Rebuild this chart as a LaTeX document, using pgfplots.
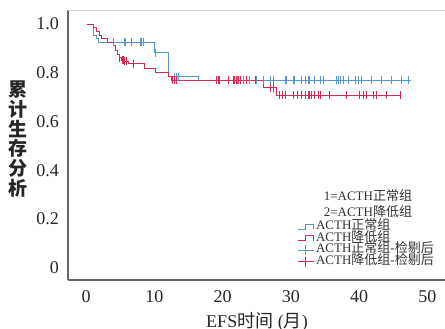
\documentclass[border=0pt]{standalone}
\usepackage{fontspec}
\setmainfont{Liberation Serif}
\newfontfamily\cjk{Noto Sans CJK SC}
\usepackage{pgfplots}
\pgfplotsset{compat=1.18}
\definecolor{kmblue}{RGB}{82,150,215}
\definecolor{kmred}{RGB}{212,42,82}
\begin{document}
\begin{tikzpicture}
\begin{axis}[
  at={(0,0)}, anchor=south west,
  scale only axis, width=378pt, height=270pt,
  xmin=-2.64, xmax=52.73, ymin=-0.0505, ymax=1.0575,
  axis lines*=left,
  axis line style={draw=gray!80!black, line width=1.1pt},
  xtick={0,10,20,30,40,50},
  ytick={0,0.2,0.4,0.6,0.8,1.0},
  yticklabels={0,0.2,0.4,0.6,0.8,1.0},
  tick style={draw=none},
  /pgf/number format/assume math mode=true,
  ticklabel style={font=\fontsize{18pt}{20pt}\selectfont, text=black!85},
  yticklabel style={anchor=east, inner sep=0pt, xshift=-9pt},
  xticklabel style={anchor=north, inner sep=0pt, yshift=-10pt},
  ylabel={累\\计\\生\\存\\分\\析},
  ylabel style={rotate=-90, align=center, anchor=center,
    font=\cjk\bfseries\fontsize{19pt}{19.7pt}\selectfont, text=black!85,
    at={(axis description cs:-0.132,0.522)}},
  xlabel={EFS{\cjk 时间} ({\cjk 月})},
  xlabel style={anchor=base, font=\fontsize{18pt}{20pt}\selectfont, text=black!85,
    at={(axis description cs:0.5,0)}, yshift=-48pt},
  legend style={at={(axis cs:30.9,0.193)}, anchor=north west, draw=none, fill=none,
    inner sep=0pt, row sep=0pt, column sep=2pt,
    nodes={inner sep=0pt, text height=8.7pt, text depth=3pt,
      font=\fontsize{13pt}{13pt}\selectfont, text=black!80}},
  legend cell align=left,
  after end axis/.code={\draw[gray!35, line width=0.8pt] (rel axis cs:0,1) -- (rel axis cs:1,1);},
]
\addplot[kmblue, line width=0.9pt, const plot,
  legend image code/.code={\draw[kmblue, line width=0.9pt] (0pt,-2.5pt) -- (8pt,-2.5pt) -- (8pt,2.5pt) -- (16pt,2.5pt) -- (16pt,-2.5pt);}]
  coordinates {(0.2,1.0)(1.07,0.951)(1.46,0.94)(1.8,0.925)(9.96,0.882)(12.05,0.784)(16.45,0.769)(47.6,0.769)};
\addlegendentry{ACTH{\cjk 正常组}}
\addplot[kmred, line width=0.9pt, const plot,
  legend image code/.code={\draw[kmred, line width=0.9pt] (0pt,-2.5pt) -- (8pt,-2.5pt) -- (8pt,2.5pt) -- (16pt,2.5pt) -- (16pt,-2.5pt);}]
  coordinates {(0.2,1.0)(1.1,0.985)(1.6,0.97)(2.0,0.955)(2.3,0.94)(3.2,0.926)(4.0,0.91)(4.3,0.892)(4.6,0.876)(4.9,0.862)(5.2,0.852)(5.6,0.847)(6.2,0.837)(8.6,0.817)(10.1,0.80)(12.06,0.784)(12.5,0.769)(26.0,0.739)(27.9,0.708)(46.2,0.708)};
\addlegendentry{ACTH{\cjk 降低组}}
\addplot[kmblue, only marks, mark=|, mark size=4pt, mark options={line width=0.9pt},
  legend image code/.code={\draw[kmblue, line width=0.9pt] (0pt,0pt) -- (16pt,0pt) (8pt,-5pt) -- (8pt,5pt);}]
  coordinates {(4.0,0.925)(5.57,0.925)(5.8,0.925)(6.7,0.925)(7.9,0.925)(8.15,0.925)(8.4,0.925)
  (10.1,0.882)(12.9,0.784)(13.2,0.784)(13.5,0.784)
  (19.4,0.769)(19.6,0.769)(21.6,0.769)(22.2,0.769)(23.0,0.769)(24.0,0.769)(24.9,0.769)(26.0,0.769)(27.0,0.769)(27.4,0.769)
  (29.2,0.769)(29.4,0.769)(30.4,0.769)(30.6,0.769)(31.6,0.769)(32.1,0.769)(32.6,0.769)(32.8,0.769)(33.5,0.769)(34.3,0.769)(34.8,0.769)
  (36.7,0.769)(37.0,0.769)(37.2,0.769)(37.7,0.769)(38.4,0.769)(39.4,0.769)(39.9,0.769)(40.4,0.769)(41.8,0.769)(43.3,0.769)(44.8,0.769)(46.2,0.769)(47.2,0.769)};
\addlegendentry{ACTH{\cjk 正常组}-{\cjk 检剔后}}
\addplot[kmred, only marks, mark=|, mark size=4pt, mark options={line width=0.9pt},
  legend image code/.code={\draw[kmred, line width=0.9pt] (0pt,0pt) -- (16pt,0pt) (8pt,-5pt) -- (8pt,5pt);}]
  coordinates {(4.95,0.862)(5.3,0.852)(5.5,0.852)(5.7,0.847)(5.9,0.847)(6.9,0.837)
  (12.7,0.769)(13.0,0.769)(13.3,0.769)
  (19.1,0.769)(19.4,0.769)(19.6,0.769)(20.8,0.769)(21.6,0.769)(21.8,0.769)(22.1,0.769)(22.3,0.769)(22.6,0.769)(23.5,0.769)(24.8,0.769)
  (27.0,0.739)(27.4,0.739)
  (28.4,0.708)(28.8,0.708)(29.2,0.708)(30.4,0.708)(30.9,0.708)(31.6,0.708)(32.1,0.708)(32.6,0.708)(32.8,0.708)(33.0,0.708)(33.5,0.708)(34.0,0.708)(34.3,0.708)
  (35.7,0.708)(38.2,0.708)(40.1,0.708)(40.6,0.708)(41.1,0.708)(42.1,0.708)(42.5,0.708)(44.0,0.708)(46.0,0.708)};
\addlegendentry{ACTH{\cjk 降低组}-{\cjk 检剔后}}
\node[font=\fontsize{13pt}{13pt}\selectfont, text=black!80, inner sep=0pt] at (axis cs:41.3,0.294) {1=ACTH{\cjk 正常组}};
\node[font=\fontsize{13pt}{13pt}\selectfont, text=black!80, inner sep=0pt] at (axis cs:41.3,0.230) {2=ACTH{\cjk 降低组}};
\end{axis}
\pgfresetboundingbox
\useasboundingbox (-68pt,-49pt) rectangle (377pt,280pt);
\end{tikzpicture}
\end{document}
